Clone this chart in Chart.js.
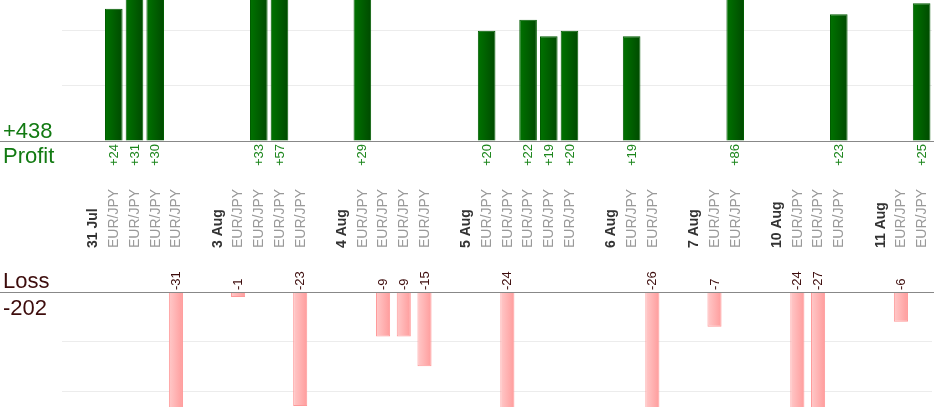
<!DOCTYPE html>
<html>
<head>
<meta charset="utf-8">
<script src="https://cdn.jsdelivr.net/npm/chart.js@4.4.0/dist/chart.umd.min.js"></script>
<style>
    html, body { margin: 0; padding: 0; background: #fff; }
    canvas { display: block; }
</style>
</head>
<body>
<canvas id="plChart" width="934" height="420"></canvas>
<script>
const days = ['31 Jul', '3 Aug', '4 Aug', '5 Aug', '6 Aug', '7 Aug', '10 Aug', '11 Aug'];
const pair = 'EUR/JPY';
// pips per trade, in closing order for each day
const trades = [
    [24, 31, 30, -31],
    [-1, 33, 57, -23],
    [29, -9, -9, -15],
    [20, -24, 22, 19, 20],
    [19, -26],
    [-7, 86],
    [-24, -27, 23],
    [-6, 25]
];
// visible part of each panel (tall bars are cut off like in the original)
const profitAxisMax = 25.6;
const lossAxisMin = -23.2;
const gridStep = 10;

const FONT = '"Liberation Sans", Arial, sans-serif';

// one empty column + one date column before every day's trades
const labels = [];
const profit = [];
const loss = [];
days.forEach((day, i) => {
    labels.push('', day);
    profit.push(null, null);
    loss.push(null, null);
    trades[i].forEach(p => {
        labels.push(pair);
        profit.push(p > 0 ? p : null);
        loss.push(p < 0 ? p : null);
    });
});

const totalProfit = profit.reduce((s, v) => s + (v || 0), 0);
const totalLoss = loss.reduce((s, v) => s + (v || 0), 0);

function barGradient(ctx, from, to) {
    const chart = ctx.chart;
    const xScale = chart.scales.x;
    if (!xScale || !chart.chartArea) {
        return from;
    }
    const colWidth = (chart.chartArea.right - chart.chartArea.left) / labels.length;
    const w = colWidth * ctx.dataset.barPercentage;
    const cx = xScale.getPixelForValue(ctx.dataIndex);
    const g = chart.ctx.createLinearGradient(cx - w / 2, 0, cx + w / 2, 0);
    g.addColorStop(0, from);
    g.addColorStop(1, to);
    return g;
}

function gridColor(c) {
    return c.tick.value !== 0 ? '#ececec' : 'rgba(0,0,0,0)';
}

function vText(c, text, x, y, align) {
    c.save();
    c.translate(x, y);
    c.rotate(-Math.PI / 2);
    c.textAlign = align;
    c.textBaseline = 'middle';
    c.fillText(text, 0, 0);
    c.restore();
}

const labelPlugin = {
    id: 'plLabels',
    afterDatasetsDraw(chart) {
        const c = chart.ctx;
        const x = chart.scales.x;
        const profitZero = chart.scales.yP.getPixelForValue(0);
        const lossZero = chart.scales.yL.getPixelForValue(0);

        c.save();
        // zero lines run across the whole picture
        c.strokeStyle = '#888';
        c.lineWidth = 1;
        c.beginPath();
        c.moveTo(0, Math.round(profitZero) + 0.5);
        c.lineTo(chart.width, Math.round(profitZero) + 0.5);
        c.moveTo(0, Math.round(lossZero) + 0.5);
        c.lineTo(chart.width, Math.round(lossZero) + 0.5);
        c.stroke();

        labels.forEach((lab, i) => {
            const cx = x.getPixelForValue(i) + 0.5;
            if (profit[i] !== null) {
                c.fillStyle = '#1c861c';
                c.font = '13px ' + FONT;
                vText(c, '+' + profit[i], cx, profitZero + 3, 'right');
            }
            if (loss[i] !== null) {
                c.fillStyle = '#3d0c0c';
                c.font = '13px ' + FONT;
                vText(c, String(loss[i]), cx, lossZero - 2, 'left');
            }
            if (lab === pair) {
                c.fillStyle = '#999';
                c.font = '14px ' + FONT;
                vText(c, lab, cx, profitZero + 107, 'left');
            } else if (lab) {
                c.fillStyle = '#333';
                c.font = 'bold 14px ' + FONT;
                vText(c, lab, cx, profitZero + 107, 'left');
            }
        });

        // totals at the left
        c.textAlign = 'left';
        c.textBaseline = 'alphabetic';
        c.font = '22px ' + FONT;
        c.fillStyle = '#127a12';
        c.fillText('+' + totalProfit, 3, profitZero - 3);
        c.fillText('Profit', 3, profitZero + 22);
        c.fillStyle = '#3d0c0c';
        c.fillText('Loss', 3, lossZero - 4);
        c.fillText(String(totalLoss), 3, lossZero + 23);
        c.restore();
    }
};

function hiddenAxis(extra) {
    return Object.assign({
        stack: 'pl',
        ticks: { display: false, stepSize: gridStep, includeBounds: false },
        grid: { color: gridColor, drawTicks: false },
        border: { display: false },
        afterFit: s => { s.width = 0; }
    }, extra);
}

new Chart(document.getElementById('plChart'), {
    type: 'bar',
    data: {
        labels: labels,
        datasets: [
            {
                label: 'Profit',
                data: profit,
                yAxisID: 'yP',
                grouped: false,
                barPercentage: 0.85,
                categoryPercentage: 1,
                backgroundColor: ctx => barGradient(ctx, '#007300', '#004a00'),
                borderColor: '#005c00',
                borderWidth: 1
            },
            {
                label: 'Loss',
                data: loss,
                yAxisID: 'yL',
                grouped: false,
                barPercentage: 0.68,
                categoryPercentage: 1,
                backgroundColor: ctx => barGradient(ctx, '#ffc9c9', '#ff9c9c'),
                borderColor: '#ff9999',
                borderWidth: 1
            }
        ]
    },
    options: {
        responsive: false,
        animation: false,
        layout: { padding: { left: 62, right: 2, top: 0, bottom: 13 } },
        plugins: {
            legend: { display: false },
            tooltip: { enabled: false }
        },
        scales: {
            x: { display: false, offset: true },
            // stacked axes are laid out bottom-up, so the loss panel comes first
            yL: hiddenAxis({ stackWeight: 115, min: lossAxisMin, max: 0 }),
            yGap: hiddenAxis({ stackWeight: 151, min: 0, max: 1, grid: { display: false, drawTicks: false } }),
            yP: hiddenAxis({ stackWeight: 141, min: 0, max: profitAxisMax })
        }
    },
    plugins: [labelPlugin]
});
</script>
</body>
</html>
